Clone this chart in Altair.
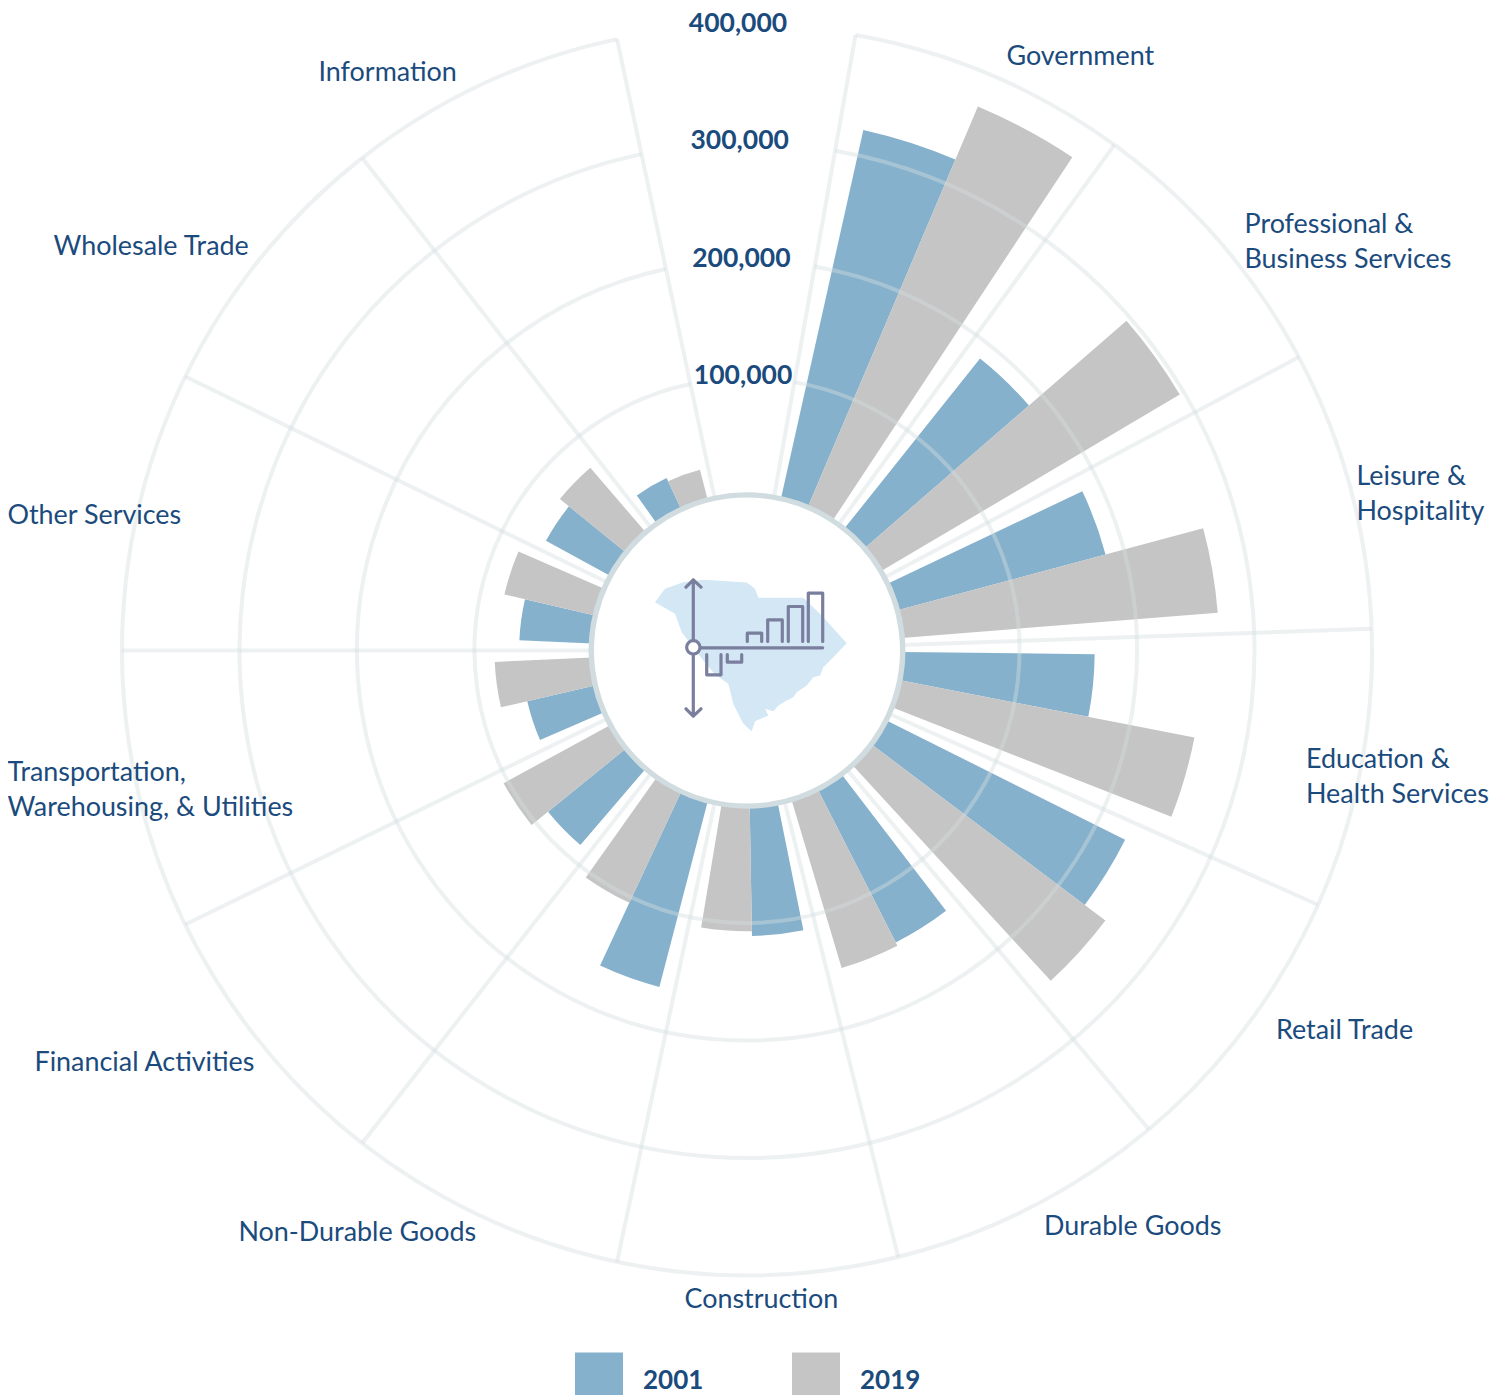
import math
import altair as alt
import pandas as pd

categories = ["Government", "Professional &\nBusiness Services", "Leisure &\nHospitality",
              "Education &\nHealth Services", "Retail Trade", "Durable Goods", "Construction",
              "Non-Durable Goods", "Financial Activities", "Transportation,\nWarehousing, & Utilities",
              "Other Services", "Wholesale Trade", "Information"]
jobs_2001 = [322000, 186000, 184000, 164000, 228000, 147000, 111000, 164000, 86000, 60000, 62000, 63000, 30000]
jobs_2019 = [371000, 296000, 270000, 256000, 250000, 150000, 107000, 105000, 104000, 83000, 80000, 73000, 27000]
ticks = [100000, 200000, 300000, 400000]
years = ["2001", "2019"]
year_colors = ["#85b1cc", "#c5c5c5"]

TEXT = "#1b4b7d"
FONT = "Lato"
FS = 26.9
CX, CY = 739, 642.5  # centre of the rose inside the plot area

# layout of the hand-placed category labels: page x, page y of first line's middle
label_pos = [(1006.5, 56.5), (1244.5, 224.5), (1356.5, 476.5), (1306, 759.5), (1276, 1030.5), (1044, 1226.5),
             (684.5, 1299.5), (238.5, 1232.5), (34.5, 1062.5), (7.5, 772.5), (7.5, 515.5), (53.5, 246.5),
             (318.5, 72.5)]

sector = 26  # degrees per category
start = 10
theta_scale = alt.Scale(domain=[0, 13], range=[math.radians(start), math.radians(start + 13 * sector)],
                        zero=False, nice=False)
radius_scale = alt.Scale(domain=[0, 400000], range=[155, 625], zero=False, nice=False)


def th(f):
    return alt.Theta(f, type="quantitative", scale=theta_scale, stack=None)


def ra(f):
    return alt.Radius(f, type="quantitative", scale=radius_scale, stack=None)


centre = dict(x=alt.value(CX), y=alt.value(CY))

rows = []
for i, c in enumerate(categories):
    rows.append(dict(cat=c, year="2001", v=jobs_2001[i], b=0, t0=i + 0.1, t1=i + 0.5))
    rows.append(dict(cat=c, year="2019", v=jobs_2019[i], b=0, t0=i + 0.5, t1=i + 0.9))
bars = alt.Chart(pd.DataFrame(rows)).mark_arc(stroke=None).encode(
    theta=th("t0"), theta2="t1", radius=ra("v"), radius2="b",
    color=alt.Color("year:N", scale=alt.Scale(domain=years, range=year_colors),
                    legend=alt.Legend(orient="none", legendX=567, legendY=1349, direction="horizontal",
                                      title=None, symbolType="M-1,-1.2H1V0.8H-1Z", symbolSize=2304,
                                      symbolStrokeWidth=0, symbolOpacity=1, labelFont=FONT, labelFontSize=26,
                                      labelFontWeight="bold", labelColor=TEXT, labelOffset=20, columnPadding=88,
                                      labelLimit=200)),
    **centre)

grid_style = dict(stroke="#d4dee0", strokeWidth=4, strokeOpacity=0.42, fillOpacity=0)
rings = alt.Chart(pd.DataFrame(dict(v=ticks, t0=[0] * 4, t1=[13] * 4))).mark_arc(**grid_style).encode(
    theta=th("t0"), theta2="t1", radius=ra("v"), radius2="v", **centre)
spokes = alt.Chart(pd.DataFrame(dict(t=list(range(14)), v=[400000] * 14, b=[0] * 14))).mark_arc(**grid_style).encode(
    theta=th("t"), theta2="t", radius=ra("v"), radius2="b", **centre)

hub = alt.Chart(pd.DataFrame(dict(t0=[0], t1=[14], r=[1000]))).mark_arc(
    fill="white", stroke="#d0dcdf", strokeWidth=4).encode(
    theta=th("t0"), theta2="t1", radius=ra("r"), **centre)


# ---- centre icon, drawn as custom symbols (offsets from the centre, icon pixels / 3)
def P(pts, close=False):
    s = "M" + "L".join(f"{x / 3 - 107:.1f},{y / 3 - 90:.1f}" for x, y in pts)
    return s + ("Z" if close else "")


state = P([(45, 125), (75, 85), (130, 65), (190, 58), (320, 66), (345, 85), (355, 112), (490, 112), (545, 165),
           (620, 248), (585, 285), (550, 320), (540, 345), (520, 350), (500, 375), (470, 395), (460, 410),
           (440, 420), (415, 435), (400, 452), (375, 445), (385, 465), (345, 482), (335, 512), (310, 490),
           (295, 460), (280, 430), (265, 370), (225, 342), (190, 300), (160, 260), (125, 215), (105, 160)], True)
glyph = " ".join([
    P([(160, 60), (160, 465)]), P([(138, 80), (160, 58), (183, 80)]), P([(138, 445), (160, 467), (183, 445)]),
    P([(160, 262), (548, 262)]),
    P([(200, 282), (200, 343), (243, 343), (243, 282)]), P([(262, 282), (262, 305), (305, 305), (305, 282)]),
    P([(322, 243), (322, 218), (365, 218), (365, 243)]), P([(383, 243), (383, 178), (427, 178), (427, 243)]),
    P([(445, 243), (445, 138), (488, 138), (488, 243)]), P([(505, 243), (505, 98), (548, 98), (548, 243)]),
])
one = pd.DataFrame(dict(a=[1]))
icon_state = alt.Chart(one).mark_point(shape=state, size=4, filled=True, fill="#d3e7f5", opacity=1).encode(**centre)
icon_glyph = alt.Chart(one).mark_point(shape=glyph, size=4, filled=False, stroke="#7b7f9e", strokeWidth=3.2,
                                       strokeCap="round", strokeJoin="round", opacity=1).encode(**centre)
icon_dot = alt.Chart(one).mark_point(shape="circle", size=180, filled=False, fill="white", stroke="#7b7f9e",
                                     strokeWidth=3.2, opacity=1, fillOpacity=1).encode(
    x=alt.value(640 + 160 / 3 - 8), y=alt.value(560 + 262 / 3 - 8))

# ---- value ticks
tick_text = alt.Chart(pd.DataFrame(dict(v=ticks, t=[13.43] * 4))).mark_text(
    font=FONT, fontSize=26.5, fontWeight="bold", color=TEXT, radiusOffset=4, dy=2, align="center",
    baseline="middle").encode(
    theta=th("t"), radius=ra("v"), text=alt.Text("v:Q", format=","), **centre)

# ---- category labels
lab = pd.DataFrame(dict(cat=categories, px=[p[0] - 8 for p in label_pos], py=[p[1] - 8 for p in label_pos]))
labels = alt.Chart(lab).mark_text(font=FONT, fontSize=FS, color=TEXT, align="left", baseline="middle",
                                  lineBreak="\n", lineHeight=35).encode(
    x=alt.X("px:Q", scale=None, axis=None), y=alt.Y("py:Q", scale=None, axis=None), text="cat:N")

chart = alt.layer(bars, rings, spokes, hub, icon_state, icon_glyph, icon_dot, tick_text, labels).properties(
    width=1489, height=1387, padding=0, autosize=alt.AutoSizeParams(type="none")
).configure_view(stroke=None, clip=False)

chart.save("out.html", embed_options={"renderer": "svg", "actions": False})
